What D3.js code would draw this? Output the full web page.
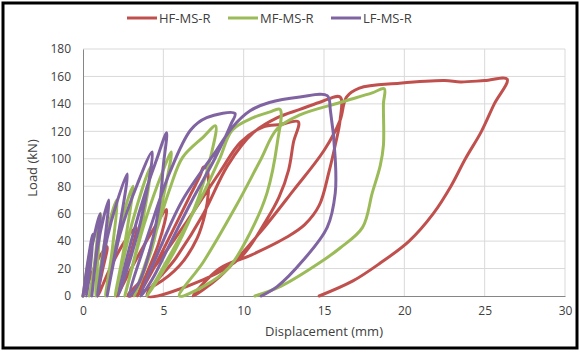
<!DOCTYPE html>
<html>
<head>
<meta charset="utf-8">
<script src="https://cdn.jsdelivr.net/npm/d3@7/dist/d3.min.js"></script>
<style>
  body { margin: 0; background: #fff; }
  text { font-family: "Open Sans", "Liberation Sans", sans-serif; fill: #404040; }
</style>
</head>
<body>
<div id="chart"></div>
<script>
// tick values
const xTicks = [0, 5, 10, 15, 20, 25, 30];
const yTicks = [0, 20, 40, 60, 80, 100, 120, 140, 160, 180];

const seriesNames = ["HF-MS-R", "MF-MS-R", "LF-MS-R"];
const seriesColors = ["#C0504D", "#9BBB59", "#8064A2"];

// displacement (mm), load (kN), in loading order
const hfPoints = [
  [0, 0], [0.5, 15], [1.0, 28], [1.5, 36], [1.2, 18], [0.9, 0],
  [1.6, 18], [2.5, 38], [3.3, 50], [2.9, 28], [2.1, 0],
  [3.0, 20], [4.2, 45], [5.2, 63], [4.7, 38], [3.4, 0],
  [4.3, 18], [5.6, 48], [6.7, 74], [7.3, 88], [7.5, 94], [7.7, 93], [7.8, 86],
  [7.8, 75], [7.6, 60], [7.1, 42], [6.0, 22], [4.5, 8], [2.8, 0],
  [4.5, 22], [6.5, 55], [8.5, 90], [9.8, 112], [11.2, 123], [12.3, 125], [13.4, 127],
  [13.1, 112], [12.8, 92], [12.2, 72], [11.4, 55], [9.8, 28], [7.5, 12], [4.0, 0],
  [5.8, 28], [7.5, 60], [9.0, 95], [10.6, 119], [12.1, 130], [13.5, 136], [14.7, 141], [16.0, 145],
  [16.0, 128], [15.7, 110], [15.3, 90], [14.7, 66], [13.8, 52], [12.7, 43], [10.5, 30], [8.5, 20], [6.85, 0],
  [8.5, 14], [11.0, 46], [13.1, 77], [15.0, 106], [16.0, 128], [16.4, 145], [17.2, 151.5],
  [19.7, 155], [22.5, 157], [23.5, 156], [25.0, 157], [26.4, 158],
  [25.6, 140], [24.8, 120], [23.8, 100], [22.9, 80], [21.8, 60], [20.3, 40], [18.5, 24], [16.8, 11], [14.7, 0]
];

const mfPoints = [
  [0, 0], [0.5, 35], [0.9, 50], [0.7, 22], [0.4, 0],
  [0.8, 30], [1.1, 60], [0.95, 32], [0.8, 0],
  [1.4, 42], [2.1, 70], [1.8, 32], [1.4, 0],
  [2.3, 50], [3.1, 80], [2.6, 38], [2.0, 0],
  [3.1, 55], [4.2, 94], [3.6, 48], [2.6, 0],
  [3.8, 52], [5.0, 92], [5.5, 105], [5.0, 72], [4.3, 35], [3.2, 0],
  [4.5, 45], [5.4, 78], [6.2, 101], [7.5, 116], [8.25, 124],
  [8.0, 104], [7.2, 72], [5.8, 35], [4.0, 0],
  [5.8, 38], [7.5, 75], [8.5, 100], [9.3, 121], [10.6, 130], [11.6, 134], [12.26, 136],
  [12.1, 112], [11.45, 75], [10.4, 46], [9.1, 21], [7.5, 7], [6.0, 0],
  [7.5, 25], [9.5, 65], [11.0, 98], [12.1, 122], [13.5, 132], [16.0, 141], [18.0, 148], [18.75, 151],
  [18.7, 140], [18.7, 110], [18.5, 95], [18.0, 75], [17.4, 50], [16.0, 35], [14.7, 24], [12.3, 7], [10.7, 0]
];

const lfPoints = [
  [0, 0], [0.3, 25], [0.6, 45], [0.45, 20], [0.2, 0],
  [0.5, 32], [1.06, 60], [0.8, 28], [0.55, 0],
  [0.9, 35], [1.3, 58], [1.6, 70], [1.3, 35], [0.9, 0],
  [1.5, 42], [2.1, 68], [2.75, 89], [2.2, 45], [1.5, 0],
  [2.3, 45], [3.4, 82], [4.3, 105], [3.6, 55], [2.2, 0],
  [3.0, 40], [4.0, 80], [4.6, 100], [5.2, 119], [5.0, 95], [4.8, 70], [4.2, 35], [3.5, 10], [2.9, 0],
  [4.2, 50], [5.4, 90], [6.7, 121], [7.7, 130], [9.46, 133],
  [9.2, 125], [8.2, 100], [6.8, 70], [5.5, 40], [4.3, 12], [3.6, 0],
  [4.8, 35], [6.2, 70], [8.3, 106], [9.3, 123], [10.4, 135], [11.6, 141], [13.5, 145], [15.2, 146],
  [15.4, 135], [15.7, 100], [15.7, 75], [15.2, 50], [13.7, 26], [12.1, 7], [11.1, 0]
];

const allSeries = [hfPoints, mfPoints, lfPoints];

const W = 580, H = 354;
const svg = d3.select("#chart").append("svg")
  .attr("width", W)
  .attr("height", H);

svg.append("rect")
  .attr("x", 3).attr("y", 3)
  .attr("width", W - 6).attr("height", H - 9)
  .attr("fill", "#fff")
  .attr("stroke", "#000")
  .attr("stroke-width", 3);

const x = d3.scaleLinear().domain([0, 30]).range([83, 565]);
const y = d3.scaleLinear().domain([0, 180]).range([296, 49]);

// gridlines
svg.append("g")
  .selectAll("line.h")
  .data(yTicks.filter(d => d > 0))
  .join("line")
  .attr("x1", x(0)).attr("x2", x(30))
  .attr("y1", d => y(d)).attr("y2", d => y(d))
  .attr("stroke", "#D9D9D9").attr("stroke-width", 1);

svg.append("g")
  .selectAll("line.v")
  .data(xTicks.filter(d => d > 0))
  .join("line")
  .attr("x1", d => x(d)).attr("x2", d => x(d))
  .attr("y1", y(0)).attr("y2", y(180))
  .attr("stroke", "#D9D9D9").attr("stroke-width", 1);

// axes
const xAxis = svg.append("g")
  .attr("transform", `translate(0,${y(0)})`)
  .call(d3.axisBottom(x).tickValues(xTicks).tickSize(0).tickPadding(10));
xAxis.select(".domain").attr("stroke", "#868686");
xAxis.selectAll("text").style("font-size", "12px").attr("fill", "#404040");

const yAxis = svg.append("g")
  .attr("transform", `translate(${x(0)},0)`)
  .call(d3.axisLeft(y).tickValues(yTicks).tickSize(0).tickPadding(12));
yAxis.select(".domain").attr("stroke", "#868686");
yAxis.selectAll("text").style("font-size", "12px").attr("fill", "#404040");

// curves
const line = d3.line()
  .x(d => x(d[0]))
  .y(d => y(d[1]))
  .curve(d3.curveCatmullRom.alpha(0.5));

svg.append("g")
  .selectAll("path")
  .data(allSeries)
  .join("path")
  .attr("d", line)
  .attr("fill", "none")
  .attr("stroke", (d, i) => seriesColors[i])
  .attr("stroke-width", 3)
  .attr("stroke-linejoin", "round")
  .attr("stroke-linecap", "round");

// axis titles
svg.append("text")
  .attr("x", 324).attr("y", 336)
  .attr("text-anchor", "middle")
  .style("font-size", "13px")
  .text("Displacement (mm)");

svg.append("text")
  .attr("transform", "translate(37,168) rotate(-90)")
  .attr("text-anchor", "middle")
  .style("font-size", "13px")
  .text("Load (kN)");

// legend
const legendX = [127, 228, 331];
const legend = svg.append("g")
  .selectAll("g")
  .data(seriesNames)
  .join("g")
  .attr("transform", (d, i) => `translate(${legendX[i]},18)`);

legend.append("line")
  .attr("x1", 0).attr("x2", 30)
  .attr("stroke", (d, i) => seriesColors[i])
  .attr("stroke-width", 3);

legend.append("text")
  .attr("x", 32).attr("y", 4.5)
  .style("font-size", "13px")
  .text(d => d);
</script>
</body>
</html>
